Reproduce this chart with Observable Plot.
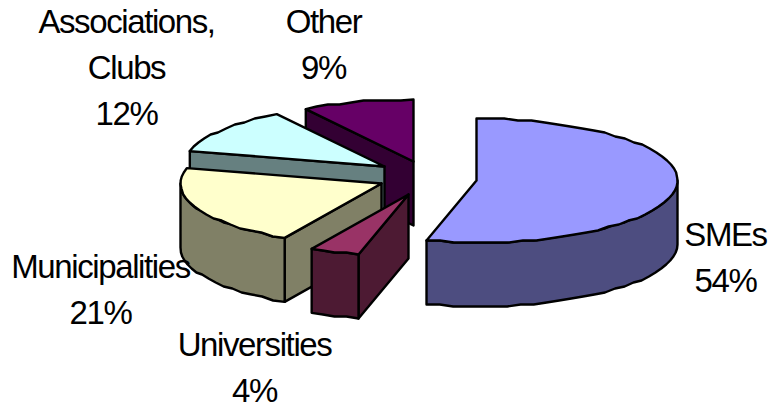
<!DOCTYPE html>
<html>
<head>
<meta charset="utf-8">
<style>
  html, body { margin: 0; padding: 0; background: #fff; }
  svg { display: block; }
</style>
<script src="https://cdn.jsdelivr.net/npm/d3@7"></script>
<script src="https://cdn.jsdelivr.net/npm/@observablehq/plot@0.6"></script>
</head>
<body>
<div id="chart"></div>
<script>
// Customer groups and their share, clockwise from twelve o'clock.
const categories = ["SMEs", "Universities", "Municipalities", "Associations, Clubs", "Other"];
const shares = [54, 4, 21, 12, 9];

// Face colours for each slice.
const topColors = ["#9999ff", "#993366", "#ffffcc", "#ccffff", "#660066"];
const wallColors = ["#4d4d80", "#4d1a33", "#808066", "#668080", "#330033"];

// Where each exploded slice has its tip, in plot units.
const tipX = [476, 408, 381, 384, 413];
const tipY = [180, 194, 183, 166, 161];

// Pie projection: ellipse radii, wall height and the coarse grid the rim is plotted on.
const radiusX = 201, radiusY = 62, depth = 64, rimGrid = 2;

// Label text lines and their placement.
const labelLines = [["SMEs"], ["Universities"], ["Municipalities"], ["Associations,", "Clubs"], ["Other"]];
const labelX = [725, 254, 100, 126, 323];
const labelY = [254, 364, 286, 64, 41];

const rad = d => d * Math.PI / 180;

// Cumulative start and end angles in degrees, derived from the shares.
let running = 0;
const slices = shares.map((s, i) => {
  const a0 = running * 3.6;
  running += s;
  return { i, a0, a1: running * 3.6, tx: tipX[i], ty: tipY[i] };
});

const rim = (s, a, dz = 0) => [
  s.tx + radiusX * Math.sin(rad(a)),
  s.ty - radiusY * Math.cos(rad(a)) + dz
];

// Rim polyline: end points stay exact, points between them snap to the grid.
const arc = (s, a0, a1, dz = 0) => {
  const n = Math.max(2, Math.ceil((a1 - a0) / 4));
  return d3.range(n + 1).map(k => {
    const [x, y] = rim(s, a0 + (a1 - a0) * k / n, dz);
    if (k === 0 || k === n) return [x, y];
    return [x, Math.round(y / rimGrid) * rimGrid];
  });
};

const face = (points, fill) => Plot.line([...points, points[0]], {
  x: d => d[0],
  y: d => d[1],
  fill,
  stroke: "#000",
  strokeWidth: 2.4,
  strokeLinejoin: "round",
  curve: "linear"
});

// Walls go first so each top face sits over them; slices run back to front.
const marks = [];
for (const s of [4, 3, 2, 1, 0].map(i => slices[i])) {
  const wall = wallColors[s.i];
  const tip = [s.tx, s.ty];
  const tipLow = [s.tx, s.ty + depth];

  if (Math.sin(rad(s.a0)) < -1e-6) {
    const p = rim(s, s.a0), q = rim(s, s.a0, depth);
    marks.push(face([tip, p, q, tipLow], wall));
  }
  if (Math.sin(rad(s.a1)) > 1e-6) {
    const p = rim(s, s.a1), q = rim(s, s.a1, depth);
    marks.push(face([tip, p, q, tipLow], wall));
  }
  const from = Math.max(s.a0, 90), to = Math.min(s.a1, 270);
  if (to > from) {
    marks.push(face([...arc(s, from, to), ...arc(s, from, to, depth).reverse()], wall));
  }
  marks.push(face([tip, ...arc(s, s.a0, s.a1)], topColors[s.i]));
}

const labels = categories.map((c, i) => ({
  text: [...labelLines[i], shares[i] + "%"].join("\n"),
  x: labelX[i],
  y: labelY[i]
}));

marks.push(Plot.text(labels, {
  x: "x",
  y: "y",
  text: "text",
  textAnchor: "middle",
  lineAnchor: "middle",
  lineHeight: 1.4,
  fontSize: 33,
  fontFamily: "Liberation Sans, Arial, sans-serif",
  fill: "#000"
}));

const chart = Plot.plot({
  width: 769,
  height: 409,
  margin: 0,
  style: { letterSpacing: "-1.4px" },
  x: { domain: [0, 769], range: [0, 769], axis: null },
  y: { domain: [0, 409], range: [0, 409], axis: null },
  marks
});
document.getElementById("chart").append(chart);
</script>
</body>
</html>
